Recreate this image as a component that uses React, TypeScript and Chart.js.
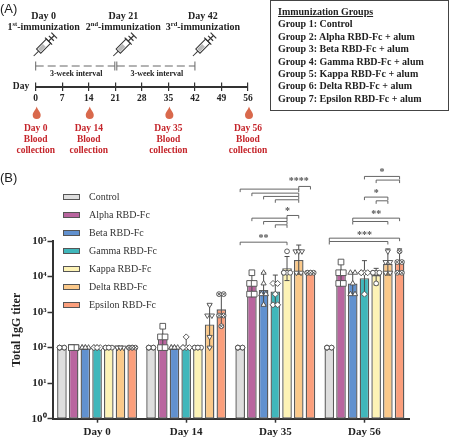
import React, { useEffect, useRef } from "react";
import { Chart, registerables } from "chart.js";
import { drawPoint } from "chart.js/helpers";

Chart.register(...registerables);

const SERIF = '"Liberation Serif", serif';
const SANS = '"Liberation Sans", sans-serif';

// ---------- Panel A data ----------
const timelineTicks = [0, 7, 14, 21, 28, 35, 42, 49, 56];
const immunizationDays = [0, 21, 42];
const immunizationOrdinals = ["1", "2", "3"];
const immunizationSuffixes = ["st", "nd", "rd"];
const bloodDays = [0, 14, 35, 56];
const groupLines = [
  "Group 1: Control",
  "Group 2: Alpha RBD-Fc + alum",
  "Group 3: Beta RBD-Fc + alum",
  "Group 4: Gamma RBD-Fc + alum",
  "Group 5: Kappa RBD-Fc + alum",
  "Group 6: Delta RBD-Fc + alum",
  "Group 7: Epsilon RBD-Fc + alum",
];

// ---------- Panel B data ----------
const categories = ["Day 0", "Day 14", "Day 35", "Day 56"];
const seriesNames = ["Control", "Alpha RBD-Fc", "Beta RBD-Fc", "Gamma RBD-Fc", "Kappa RBD-Fc", "Delta RBD-Fc", "Epsilon RBD-Fc"];
const seriesColors = ["#dedede", "#b9659f", "#6191cf", "#40b7bb", "#fdf3b6", "#fbc98a", "#fb9f7c"];
const seriesMarkers = ["circle", "rect", "triangle", "rectRot", "circle", "triangleDown", "crossCircle"];
const markerRadii = [2.4, 4, 3, 3, 2.4, 3, 2.4];
const markerColumns = [2, 2, 3, 3, 3, 3, 3];

const controlValues = [100, 100, 100, 100];
const alphaValues = [100, 200, 7500, 15400];
const betaValues = [100, 100, 4200, 6400];
const gammaValues = [100, 115, 3800, 9000];
const kappaValues = [100, 100, 17200, 11000];
const deltaValues = [100, 450, 29400, 22800];
const epsilonValues = [100, 1200, 12800, 29400];
const seriesValues = [controlValues, alphaValues, betaValues, gammaValues, kappaValues, deltaValues, epsilonValues];

const controlLow = [100, 100, 100, 100];
const controlHigh = [100, 100, 100, 100];
const alphaLow = [100, 100, 3400, 6400];
const alphaHigh = [100, 400, 13000, 25600];
const betaLow = [100, 100, 1600, 3200];
const betaHigh = [100, 100, 12800, 12800];
const gammaLow = [100, 90, 1500, 3000];
const gammaHigh = [100, 200, 11000, 28000];
const kappaLow = [100, 100, 7700, 5800];
const kappaHigh = [100, 100, 36600, 17000];
const deltaLow = [100, 100, 11600, 11000];
const deltaHigh = [100, 1600, 77000, 60000];
const epsilonLow = [100, 400, 12800, 12500];
const epsilonHigh = [100, 3200, 12800, 60000];
const seriesLow = [controlLow, alphaLow, betaLow, gammaLow, kappaLow, deltaLow, epsilonLow];
const seriesHigh = [controlHigh, alphaHigh, betaHigh, gammaHigh, kappaHigh, deltaHigh, epsilonHigh];

const controlPoints = [[100, 100, 100, 100, 100], [100, 100, 100, 100, 100], [100, 100, 100, 100, 100], [100, 100, 100, 100, 100]];
const alphaPoints = [[100, 100, 100, 100, 100], [400, 200, 200, 100, 100], [12800, 6400, 6400, 3200, 3200], [25600, 12800, 12800, 6400, 6400]];
const betaPoints = [[100, 100, 100, 100, 100], [100, 100, 100, 100, 100], [12800, 6400, 3200, 3200, 1600], [12800, 12800, 6400, 3200, 3200]];
const gammaPoints = [[100, 100, 100, 100, 100], [200, 100, 100, 100, 100], [6400, 6400, 3200, 1600, 1600], [12800, 12800, 12800, 12800, 3200]];
const kappaPoints = [[100, 100, 100, 100, 100], [100, 100, 100, 100, 100], [51200, 12800, 12800, 12800, 12800], [12800, 12800, 12800, 12800, 6400]];
const deltaPoints = [[100, 100, 100, 100, 100], [1600, 800, 800, 200, 100], [51200, 51200, 51200, 12800, 12800], [51200, 25600, 25600, 12800, 12800]];
const epsilonPoints = [[100, 100, 100, 100, 100], [3200, 3200, 800, 800, 400], [12800, 12800, 12800, 12800, 12800], [51200, 25600, 25600, 12800, 12800]];
const seriesPoints = [controlPoints, alphaPoints, betaPoints, gammaPoints, kappaPoints, deltaPoints, epsilonPoints];

const yTicks = [1, 10, 100, 1000, 10000, 100000];
const superscripts = ["⁰", "¹", "²", "³", "⁴", "⁵"];

// Significance brackets: category, series from, series to, log10 level
const bracketRows: number[][] = [
  [2, 0, 4, 4.967],
  [2, 1, 4, 5.643],
  [2, 2, 4, 5.549],
  [2, 3, 4, 5.455],
  [2, 4, 5, 5.718],
  [2, 0, 5, 6.46],
  [2, 1, 5, 6.347],
  [2, 2, 5, 6.254],
  [2, 3, 5, 6.16],
  [2, 5, 6, 6.535],
  [3, 0, 6, 5.08],
  [3, 0, 5, 4.986],
  [3, 2, 6, 5.643],
  [3, 2, 5, 5.549],
  [3, 3, 5, 6.235],
  [3, 4, 5, 6.131],
  [3, 3, 6, 6.817],
  [3, 4, 6, 6.714],
];
// Significance stars: text, category, series, log10 level
const starTexts = ["**", "*", "****", "***", "**", "*", "*"];
const starCategories = [2, 2, 2, 3, 3, 3, 3];
const starSeries = [2, 4.05, 5, 3, 4, 4, 4.5];
const starLevels = [5.14, 5.9, 6.74, 5.24, 5.81, 6.41, 7.0];

function drawSup(ctx: CanvasRenderingContext2D, cx: number, y: number, base: string, sup: string, rest: string) {
  ctx.textAlign = "left";
  ctx.textBaseline = "middle";
  const big = `bold 10px ${SERIF}`;
  const small = `bold 6.5px ${SERIF}`;
  ctx.font = big;
  const a = ctx.measureText(base).width;
  const c = ctx.measureText(rest).width;
  ctx.font = small;
  const b = ctx.measureText(sup).width;
  let x = cx - (a + b + c) / 2;
  ctx.font = big;
  ctx.fillText(base, x, y);
  x += a;
  ctx.font = small;
  ctx.fillText(sup, x, y - 3);
  x += b;
  ctx.font = big;
  ctx.fillText(rest, x, y);
}

function drawSyringe(ctx: CanvasRenderingContext2D, x: number, y: number) {
  ctx.save();
  ctx.translate(x, y);
  ctx.rotate(-Math.PI / 4);
  ctx.strokeStyle = "#333";
  ctx.lineWidth = 1;
  ctx.beginPath();
  ctx.moveTo(0, 0);
  ctx.lineTo(7, 0);
  ctx.stroke();
  ctx.fillStyle = "#fff";
  ctx.fillRect(7, -3, 14, 6);
  ctx.fillStyle = "#bbb";
  ctx.fillRect(8, -2, 7, 4);
  ctx.strokeRect(7, -3, 14, 6);
  ctx.lineWidth = 1.2;
  ctx.beginPath();
  ctx.moveTo(21, -5);
  ctx.lineTo(21, 5);
  ctx.moveTo(21, 0);
  ctx.lineTo(29, 0);
  ctx.moveTo(25, -3.5);
  ctx.lineTo(25, 3.5);
  ctx.moveTo(29, -4);
  ctx.lineTo(29, 4);
  ctx.stroke();
  ctx.restore();
}

function drawDrop(ctx: CanvasRenderingContext2D, x: number, y: number) {
  ctx.fillStyle = "#d9694c";
  ctx.beginPath();
  ctx.moveTo(x, y - 6.5);
  ctx.bezierCurveTo(x + 1, y - 3, x + 4, y - 1, x + 4, y + 2);
  ctx.arc(x, y + 2, 4, 0, Math.PI);
  ctx.bezierCurveTo(x - 4, y - 1, x - 1, y - 3, x, y - 6.5);
  ctx.fill();
}

const timelinePlugin = {
  id: "timelineDecor",
  afterDraw(chart: any) {
    const { ctx, scales } = chart;
    const sx = scales.x;
    ctx.save();
    ctx.fillStyle = "#222";
    ctx.font = `bold 9.5px ${SERIF}`;
    ctx.textAlign = "center";
    ctx.textBaseline = "middle";
    ctx.fillText("Day", 21, 87);

    immunizationDays.forEach((d, i) => {
      const px = sx.getPixelForValue(d);
      ctx.fillStyle = "#222";
      ctx.font = `bold 10px ${SERIF}`;
      ctx.textAlign = "center";
      ctx.textBaseline = "middle";
      ctx.fillText(`Day ${d}`, px + 8, 16);
      drawSup(ctx, px + 8, 27, immunizationOrdinals[i], immunizationSuffixes[i], "-immunization");
      drawSyringe(ctx, px - 2, 56);
    });

    ctx.strokeStyle = "#666";
    ctx.lineWidth = 1;
    for (let i = 0; i < immunizationDays.length - 1; i++) {
      const a = sx.getPixelForValue(immunizationDays[i]) + (i ? 1.5 : 0);
      const b = sx.getPixelForValue(immunizationDays[i + 1]) - (i ? 0 : 0.5);
      ctx.setLineDash([]);
      ctx.beginPath();
      ctx.moveTo(a, 61.5);
      ctx.lineTo(a, 70.5);
      ctx.moveTo(b, 61.5);
      ctx.lineTo(b, 70.5);
      ctx.stroke();
      ctx.setLineDash([8, 4]);
      ctx.beginPath();
      ctx.moveTo(a, 66);
      ctx.lineTo(b, 66);
      ctx.stroke();
      ctx.setLineDash([]);
      ctx.fillStyle = "#222";
      ctx.font = `bold 8px ${SERIF}`;
      ctx.textAlign = "center";
      ctx.textBaseline = "middle";
      ctx.fillText("3-week interval", (a + b) / 2 + 1, 74);
    }

    bloodDays.forEach((d) => {
      const px = sx.getPixelForValue(d);
      drawDrop(ctx, px + 1, 113);
      ctx.fillStyle = "#c5252b";
      ctx.font = `bold 9.5px ${SERIF}`;
      ctx.textAlign = "center";
      ctx.textBaseline = "middle";
      ctx.fillText(`Day ${d}`, px, 129);
      ctx.fillText("Blood", px, 140);
      ctx.fillText("collection", px, 151);
    });
    ctx.restore();
  },
};

const markerOverlayPlugin = {
  id: "markerOverlay",
  afterDraw(chart: any) {
    const { ctx, scales } = chart;
    const y = scales.y;
    const ink = "#4d4d4d";
    ctx.save();

    seriesNames.forEach((_, s) => {
      const meta = chart.getDatasetMeta(s);
      meta.data.forEach((bar: any, c: number) => {
        // error bar
        const hi = y.getPixelForValue(seriesHigh[s][c]);
        const lo = y.getPixelForValue(seriesLow[s][c]);
        if (Math.abs(hi - lo) > 0.5) {
          ctx.strokeStyle = ink;
          ctx.lineWidth = 1;
          ctx.beginPath();
          ctx.moveTo(bar.x, hi);
          ctx.lineTo(bar.x, lo);
          ctx.moveTo(bar.x - 2.5, hi);
          ctx.lineTo(bar.x + 2.5, hi);
          ctx.moveTo(bar.x - 2.5, lo);
          ctx.lineTo(bar.x + 2.5, lo);
          ctx.stroke();
        }
        // points, spread sideways when they share a value
        const vals = seriesPoints[s][c];
        const uniq = Array.from(new Set(vals));
        uniq.forEach((v) => {
          const n = vals.filter((t) => t === v).length;
          const cols = Math.min(n, markerColumns[s]);
          const step = cols > 2 ? 3.2 : 4.6;
          for (let i = 0; i < n; i++) {
            const col = i % cols;
            const px = bar.x + (col - (cols - 1) / 2) * step;
            const py = y.getPixelForValue(v);
            const marker = seriesMarkers[s];
            const opts: any = {
              radius: markerRadii[s],
              pointStyle: marker === "triangleDown" ? "triangle" : marker === "crossCircle" ? "circle" : marker,
              rotation: marker === "triangleDown" ? 180 : 0,
              borderWidth: 0.9,
            };
            ctx.fillStyle = "#fff";
            ctx.strokeStyle = ink;
            ctx.lineWidth = 0.9;
            drawPoint(ctx, opts, px, py);
            if (marker === "crossCircle") {
              drawPoint(ctx, { ...opts, pointStyle: "crossRot", radius: 2.2, borderWidth: 0.7 }, px, py);
            }
          }
        });
      });
    });

    // significance brackets
    ctx.strokeStyle = "#555";
    ctx.lineWidth = 0.9;
    const barX = (c: number, s: number) => chart.getDatasetMeta(s).data[c].x;
    bracketRows.forEach(([c, a, b, lvl]) => {
      const py = y.getPixelForValue(Math.pow(10, lvl));
      ctx.beginPath();
      ctx.moveTo(barX(c, a), py + 3);
      ctx.lineTo(barX(c, a), py);
      ctx.lineTo(barX(c, b), py);
      ctx.lineTo(barX(c, b), py + 3);
      ctx.stroke();
    });

    ctx.fillStyle = "#555";
    ctx.font = `bold 10px ${SERIF}`;
    ctx.textAlign = "center";
    ctx.textBaseline = "middle";
    starTexts.forEach((t, i) => {
      const s0 = Math.floor(starSeries[i]);
      const frac = starSeries[i] - s0;
      const x0 = barX(starCategories[i], s0);
      const x1 = s0 < 6 ? barX(starCategories[i], s0 + 1) : x0;
      ctx.fillText(t, x0 + (x1 - x0) * frac, y.getPixelForValue(Math.pow(10, starLevels[i])) + 2.5);
    });

    // legend
    seriesNames.forEach((name, s) => {
      const ly = 32 + s * 18;
      ctx.fillStyle = seriesColors[s];
      ctx.strokeStyle = "#555";
      ctx.lineWidth = 1;
      ctx.fillRect(63.5, ly - 2.5, 16, 5);
      ctx.strokeRect(63.5, ly - 2.5, 16, 5);
      ctx.fillStyle = "#333";
      ctx.font = `10px ${SERIF}`;
      ctx.textAlign = "left";
      ctx.textBaseline = "middle";
      ctx.fillText(name, 89, ly);
    });
    ctx.restore();
  },
};

export default function App() {
  const topRef = useRef<HTMLCanvasElement>(null);
  const barRef = useRef<HTMLCanvasElement>(null);

  useEffect(() => {
    const top = new Chart(topRef.current!, {
      type: "scatter",
      data: { datasets: [{ data: [], showLine: false }] },
      options: {
        animation: false,
        responsive: false,
        layout: { padding: { left: 35.7, right: 202, top: 82.5, bottom: 0 } },
        plugins: { legend: { display: false }, tooltip: { enabled: false } },
        scales: {
          x: {
            type: "linear",
            min: 0,
            max: 56,
            afterBuildTicks: (s: any) => {
              s.ticks = timelineTicks.map((value) => ({ value }));
            },
            afterFit: (s: any) => {
              s.height = 165 - 82.5 - 4.5;
            },
            grid: { color: "#333", lineWidth: 1.2, drawOnChartArea: true, tickLength: 4, tickColor: "#333" },
            border: { color: "#333", width: 2 },
            ticks: {
              color: "#222",
              maxRotation: 0,
              autoSkip: false,
              padding: 2,
              font: { family: SERIF, size: 9.5, weight: "bold" },
            },
          },
          y: { display: false, min: 0, max: 1 },
        },
      },
      plugins: [timelinePlugin],
    } as any);

    const bars = new Chart(barRef.current!, {
      type: "bar",
      data: {
        labels: categories,
        datasets: seriesNames.map((label, i) => ({
          label,
          data: seriesValues[i],
          backgroundColor: seriesColors[i],
          borderColor: "#5a5a5a",
          borderWidth: 1.4,
          borderSkipped: false,
          categoryPercentage: 0.92,
          barPercentage: 0.82,
        })),
      },
      options: {
        animation: false,
        responsive: false,
        layout: { padding: { left: 0, right: 41, top: 76, bottom: 0 } },
        plugins: { legend: { display: false }, tooltip: { enabled: false } },
        scales: {
          x: {
            type: "category",
            afterFit: (s: any) => {
              s.height = 19.3;
            },
            grid: { drawOnChartArea: false, offset: false, tickLength: 4, tickColor: "#333", tickWidth: 1.5 },
            border: { color: "#333", width: 2 },
            ticks: { color: "#222", padding: 3, font: { family: SERIF, size: 11, weight: "bold" } },
          },
          y: {
            type: "logarithmic",
            min: 1,
            max: 100000,
            afterBuildTicks: (s: any) => {
              s.ticks = yTicks.map((value) => ({ value, major: true }));
            },
            afterFit: (s: any) => {
              s.width = 52.5;
            },
            grid: { drawOnChartArea: false, tickLength: 5, tickColor: "#333", tickWidth: 1.5 },
            border: { color: "#333", width: 2 },
            title: {
              display: true,
              text: "Total IgG titer",
              color: "#222",
              padding: { top: 10, bottom: 0 },
              font: { family: SERIF, size: 12, weight: "bold" },
            },
            ticks: {
              color: "#222",
              padding: 1,
              autoSkip: false,
              font: { family: SERIF, size: 11, weight: "bold" },
              callback: (v: any) => `10${superscripts[Math.round(Math.log10(Number(v)))]}`,
            },
          },
        },
      },
      plugins: [markerOverlayPlugin],
    } as any);

    return () => {
      top.destroy();
      bars.destroy();
    };
  }, []);

  const lineStyle: React.CSSProperties = { height: 12.4, lineHeight: "12.4px", whiteSpace: "nowrap" };

  return (
    <div style={{ position: "fixed", left: 0, top: 0, width: 450, height: 438, background: "#fff", overflow: "hidden" }}>
      <canvas ref={topRef} width={450} height={165} style={{ position: "absolute", left: 0, top: 0, display: "block" }} />
      <canvas ref={barRef} width={450} height={273} style={{ position: "absolute", left: 0, top: 165, display: "block" }} />
      <div style={{ position: "absolute", left: 0, top: 1, font: `13px ${SANS}`, color: "#222" }}>(A)</div>
      <div style={{ position: "absolute", left: 0, top: 170, font: `13px ${SANS}`, color: "#222" }}>(B)</div>
      <div
        style={{
          position: "absolute",
          left: 270,
          top: 0,
          width: 177,
          height: 109,
          boxSizing: "content-box",
          border: "1px solid #444",
          font: `bold 10px ${SERIF}`,
          color: "#222",
          paddingLeft: 0,
        }}
      >
        <div style={{ position: "absolute", left: 7, top: 5 }}>
          <div style={{ ...lineStyle, textDecoration: "underline" }}>Immunization Groups</div>
          {groupLines.map((t) => (
            <div key={t} style={lineStyle}>
              {t}
            </div>
          ))}
        </div>
      </div>
    </div>
  );
}
